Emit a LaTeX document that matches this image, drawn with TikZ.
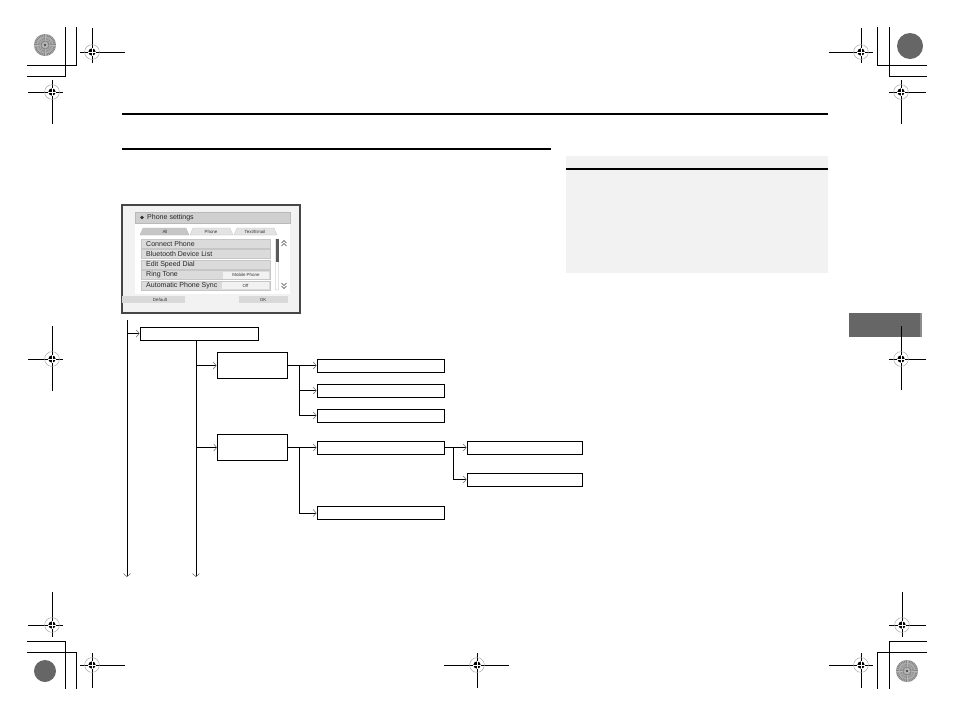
\documentclass[tikz,border=0pt]{standalone}
\usepackage{fontspec}
\setsansfont{Liberation Sans}
\usetikzlibrary{arrows.meta, positioning}

\begin{document}
\begin{tikzpicture}[x=0.03cm, y=-0.03cm,
		cropline/.style={line width=0.75pt},
		rule/.style={line width=0.9pt},
		menubox/.style={draw, line width=0.7pt, inner sep=0pt, minimum width=3.54cm, minimum height=0.39cm},
		catbox/.style={draw, line width=0.7pt, inner sep=0pt, minimum width=2.1cm, minimum height=0.78cm},
		itembox/.style={draw, line width=0.7pt, inner sep=0pt, minimum width=3.81cm, minimum height=0.39cm},
		subbox/.style={draw, line width=0.7pt, inner sep=0pt, minimum width=3.45cm, minimum height=0.39cm},
		wire/.style={line width=0.7pt},
		link/.style={line width=0.7pt, -{Straight Barb[length=2.6pt, width=6pt, line width=0.45pt, color=gray!80!black]}},
		rowbar/.style={fill=gray!28, draw=gray!45, line width=0.2pt},
		scrtext/.style={anchor=west, inner sep=0pt, text=black!85, font=\sffamily\fontsize{6}{7}\selectfont},
		tinytext/.style={inner sep=0pt, text=black!80, font=\sffamily\fontsize{3.8}{4.5}\selectfont}
		]
		
		\useasboundingbox (0,0) rectangle (954,717);
		\fill[white] (0,0) rectangle (954,717);
		
		% ----- Crop marks -----
		\draw[cropline] (65,27) -- (65,76) -- (27,76);
		\draw[cropline] (76,27) -- (76,65) -- (27,65);
		\draw[cropline] (877,27) -- (877,65) -- (927,65);
		\draw[cropline] (889,27) -- (889,76) -- (927,76);
		\draw[cropline] (27,641) -- (65,641) -- (65,689);
		\draw[cropline] (27,652) -- (76,652) -- (76,689);
		\draw[cropline] (927,641) -- (889,641) -- (889,689);
		\draw[cropline] (927,652) -- (877,652) -- (877,689);
		
		% Color disks
		\foreach \cx/\cy in {45/45, 907/671} {
			\fill[black!48] (\cx,\cy) circle[radius=0.33cm];
			\foreach \a in {0,10,...,350}
			\draw[black!28, line width=0.35pt] (\cx,\cy) -- ++(\a:0.33cm);
			\draw[black!30, line width=0.5pt] (\cx,\cy) circle[radius=0.24cm];
			\draw[black!55, line width=0.4pt] (\cx,\cy) circle[radius=0.12cm];
			\fill[black!80] (\cx,\cy) circle[radius=0.035cm];
		}
		\fill[black!60] (910,46) circle[radius=0.39cm];
		\fill[black!60] (45,671) circle[radius=0.33cm];
		
		% Registration targets
		\foreach \cx/\cy/\l/\r/\u/\d in {92/52/12/33/24/11, 52/92/24/11/12/32, 861/52/32/12/24/11,
			901/92/12/25/12/32, 901/359/12/25/33/31, 52/359/24/11/33/32, 52/625/24/11/33/12,
			92/665/12/33/12/23, 477/665/33/32/12/23, 861/665/32/12/12/23, 902/625/13/24/33/12} {
			\draw[cropline] (\cx-\l,\cy) -- (\cx+\r,\cy) (\cx,\cy-\u) -- (\cx,\cy+\d);
			\fill (\cx,\cy) circle[radius=0.11cm];
			\draw[white, line width=0.45pt] (\cx-4,\cy) -- (\cx+4,\cy) (\cx,\cy-4) -- (\cx,\cy+4);
			\draw[gray!70, line width=0.4pt] (\cx,\cy) circle[radius=0.22cm];
		}
		
		% Side tab
		\fill[black!60] (849,313) rectangle (922,337);
		\fill[black!45] (920,313) rectangle (922,337);
		\draw[cropline] (901,326) -- (901,337);
		
		% ----- Header rules -----
		\draw[rule] (122,114) -- (828,114);
		\draw[rule] (122,149) -- (551,149);
		
		% Note panel
		\fill[gray!10] (566,156) rectangle (828,273);
		\draw[rule] (566,169) -- (828,169);
		
		% ----- Screen shot -----
		\draw[fill=gray!10, draw=gray!55!black, line width=0.9pt] (122,205) rectangle (300,313);
		\fill[white] (135,223) rectangle (290,294);
		\draw[fill=gray!38, draw=gray!55, line width=0.3pt] (135,212) rectangle (290,223);
		\fill[black!80] (142,217.5) circle[radius=0.055cm];
		\node[scrtext] (title) at (147,217.5) {Phone settings};
		
		% Tabs
		\draw[fill=gray!45, draw=gray!60, line width=0.2pt] (140,235) -- (143,228) -- (186,228) -- (189,235) -- cycle;
		\draw[fill=gray!22, draw=gray!50, line width=0.2pt] (190,235) -- (193,228) -- (230,228) -- (233,235) -- cycle;
		\draw[fill=gray!22, draw=gray!50, line width=0.2pt] (234,235) -- (237,228) -- (274,228) -- (277,235) -- cycle;
		\node[tinytext] (taball) at (165,231.5) {All};
		\node[tinytext] (tabphone) at (211,231.5) {Phone};
		\node[tinytext] (tabtext) at (255,231.5) {Text/Email};
		
		% Rows
		\draw[rowbar] (141,239) rectangle (270,248);
		\draw[rowbar] (141,249.5) rectangle (270,258.5);
		\draw[rowbar] (141,260) rectangle (270,269);
		\draw[rowbar] (141,270.5) rectangle (270,279.5);
		\draw[rowbar] (141,281) rectangle (270,290);
		\fill[gray!10] (223,271.5) rectangle (269,278.5);
		\fill[gray!10] (222,282) rectangle (269,289);
		\node[scrtext] (row1) at (146,243.5) {Connect Phone};
		\node[scrtext] (row2) at (146,254) {Bluetooth Device List};
		\node[scrtext] (row3) at (146,264.5) {Edit Speed Dial};
		\node[scrtext] (row4) at (146,275) {Ring Tone};
		\node[scrtext] (row5) at (146,285.5) {Automatic Phone Sync};
		\node[tinytext] (ringval) at (246,275) {Mobile Phone};
		\node[tinytext] (syncval) at (245.5,285.5) {Off};
		
		% Scroll bar
		\draw[gray!60, line width=0.3pt, rounded corners=0.5pt] (275.5,239) rectangle (278.5,290);
		\fill[gray!70!black] (275.5,239) rectangle (278.5,262);
		\draw[black!75, line width=0.5pt] (281.5,243) -- (284,240.5) -- (286.5,243) (281.5,246) -- (284,243.5) -- (286.5,246);
		\draw[black!75, line width=0.5pt] (281.5,283) -- (284,285.5) -- (286.5,283) (281.5,286) -- (284,288.5) -- (286.5,286);
		
		% Buttons
		\fill[gray!30] (122,296) rectangle (185,303);
		\fill[gray!30] (239,296) rectangle (288,303);
		\node[tinytext] (btndef) at (160,299.5) {Default};
		\node[tinytext] (btnok) at (263,299.5) {OK};
		
		% ----- Menu tree -----
		\coordinate (rootA) at (127,320);
		\coordinate (endA) at (127,577);
		\coordinate (endB) at (196,577);
		
		\node[menubox] (menu) at (199,333.5) {};
		\node[catbox] (cat1) at (252,365.5) {};
		\node[catbox] (cat2) at (252.5,447.5) {};
		
		\node[itembox] (item1) at (380.5,365.5) {};
		\node[itembox] (item2) at (380.5,390.5) {};
		\node[itembox] (item3) at (380.5,415.5) {};
		\node[itembox] (item4) at (380.5,447.5) {};
		\node[itembox] (item5) at (380.5,513) {};
		
		\node[subbox] (sub1) at (524.5,447.5) {};
		\node[subbox] (sub2) at (524.5,479.5) {};
		
		\coordinate (fork1) at (299,365.5);
		\coordinate (fork2) at (299,447.5);
		\coordinate (fork3) at (453,447.5);
		
		% Edges
		\draw[link] (rootA) -- (endA);
		\draw[link] (rootA |- menu) -- (menu);
		\draw[link] (menu.south -| endB) -- (endB);
		\draw[link] (endB |- cat1) -- (cat1);
		\draw[link] (endB |- cat2) -- (cat2);
		
		\draw[wire] (cat1) -- (fork1);
		\draw[link] (fork1) -- (item1);
		\draw[link] (fork1) |- (item2);
		\draw[link] (fork1) |- (item3);
		
		\draw[wire] (cat2) -- (fork2);
		\draw[link] (fork2) -- (item4);
		\draw[link] (fork2) |- (item5);
		
		\draw[wire] (item4) -- (fork3);
		\draw[link] (fork3) -- (sub1);
		\draw[link] (fork3) |- (sub2);
		
	\end{tikzpicture}
\end{document}
